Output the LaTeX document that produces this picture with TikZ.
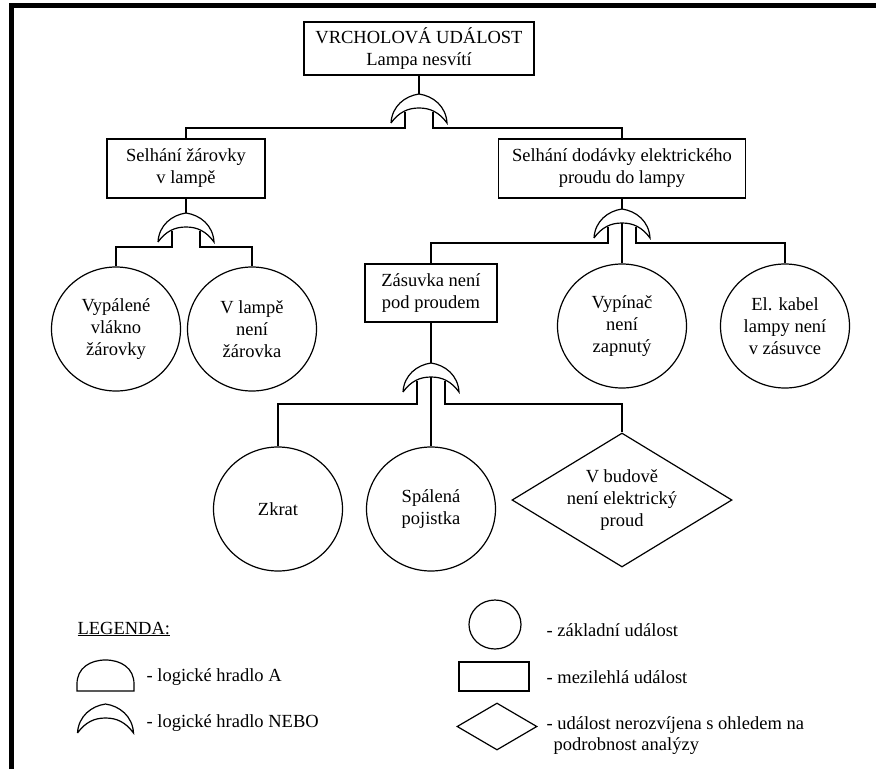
\documentclass[tikz,border=0pt]{standalone}
\usepackage{fontspec}
\setmainfont{Liberation Serif}
\usetikzlibrary{shapes}

\tikzset{
  orgate/.pic={
    \draw (-28,0) .. controls (-27,-17) and (-14,-27) .. (0,-29)
      .. controls (14,-27) and (27,-17) .. (28,0)
      .. controls (20,-11) and (11,-15) .. (0,-15)
      .. controls (-11,-15) and (-20,-11) .. (-28,0);
    \coordinate (-top) at (0,-29);
    \coordinate (-in) at (0,-15);
    \coordinate (-l) at (-14,-11);
    \coordinate (-r) at (14,-11);
  }
}

\begin{document}
\begin{tikzpicture}[x=1pt,y=-1pt,line width=1.2pt,
  evtext/.style={font=\fontsize{18.5}{22}\selectfont,align=center},
  evbox/.style={draw,rectangle,evtext,inner sep=2pt},
  basicev/.style={draw,ellipse,evtext,inner sep=0pt,minimum width=129,minimum height=124},
  undevelop/.style={draw,diamond,inner sep=0pt,minimum width=220,minimum height=134},
  legtext/.style={evtext,anchor=west,inner sep=0pt}]
\useasboundingbox (0,0) rectangle (876,769);
% Frame
\draw[line width=4.5pt] (11.5,769) -- (11.5,5.5) -- (876,5.5);
% Events
\node[evbox,minimum width=230,minimum height=53] (vrchol) at (419,48.5) {VRCHOLOVÁ UDÁLOST\\Lampa nesvítí};
\node[evbox,minimum width=158,minimum height=59] (zarovka) at (186,168.5) {Selhání žárovky\\v lampě};
\node[evbox,minimum width=247,minimum height=59] (dodavka) at (622,168.5) {Selhání dodávky elektrického\\proudu do lampy};
\node[evbox,minimum width=132,minimum height=58] (zasuvka) at (431,293) {Zásuvka není\\pod proudem};
     \node[basicev] (vlakno) at (116,329) {Vypálené\\vlákno\\žárovky};
     \node[basicev] (nezarovka) at (252,329) {V lampě\\není\\žárovka};
     \node[basicev] (vypinac) at (622,326) {Vypínač\\není\\zapnutý};
     \node[basicev] (kabel) at (785,326) {El. kabel\\lampy není\\v zásuvce};
     \node[basicev] (zkrat) at (278,509) {Zkrat};
     \node[basicev] (pojistka) at (431,509) {Spálená\\pojistka};
     \node[undevelop,label={[evtext]center:V budově\\není elektrický\\proud}] (budova) at (622,500) {};
     % Gates
     \pic (g0) at (419,123) {orgate};
     \pic (g1) at (186,242) {orgate};
     \pic (g2) at (622,238) {orgate};
     \pic (g3) at (431,392) {orgate};
     %
     % Edges
     \draw (vrchol.south) -- (g0-top);
     \draw (g0-l) -- ++(0,16) -| (zarovka.north);
     \draw (g0-r) -- ++(0,16) -| (dodavka.north);
     \draw (zarovka.south) -- (g1-top);
     \draw (g1-l) -- ++(0,16) -| (vlakno.north);
     \draw (g1-r) -- ++(0,16) -| (nezarovka.north);
     \draw (dodavka.south) -- (g2-top);
     \draw (g2-l) -- ++(0,16) -| (zasuvka.north);
     \draw (g2-in) -- (vypinac.north);
     \draw (g2-r) -- ++(0,16) -| (kabel.north);
     \draw (zasuvka.south) -- (g3-top);
     \draw (g3-l) -- ++(0,23) -| (zkrat.north);
     \draw (g3-in) -- (pojistka.north);
     \draw (g3-r) -- ++(0,23) -| (budova.north);
     %
     % Legend
     \node[legtext] (legtitle) at (77,629) {\underline{LEGENDA:}};
     \draw (77,691) -- (77,684) .. controls (77,668) and (90,660) .. (105.5,660) .. controls (121,660) and (134,668) .. (134,684) -- (134,691) -- cycle;
     \node[legtext] (legand) at (146,677) {- logické hradlo A};
     \pic (legor) at (105.5,733) {orgate};
     \node[legtext] (legnebo) at (146,723) {- logické hradlo NEBO};
     \node[draw,ellipse,minimum width=52,minimum height=49,inner sep=0pt] (legcirc) at (495,624.5) {};
     \node[legtext] (legzakl) at (546,630) {- základní událost};
     \node[draw,rectangle,minimum width=70,minimum height=29,inner sep=0pt] (legrect) at (494,676.5) {};
     \node[legtext] (legmezi) at (546,677) {- mezilehlá událost};
     \node[draw,diamond,minimum width=80,minimum height=47,inner sep=0pt] (legdiam) at (497,726.5) {};
     \node[legtext] (legnero) at (546,725) {- událost nerozvíjena s ohledem na};
     \node[legtext] (legnero2) at (553,746) {podrobnost analýzy};
\end{tikzpicture}
\end{document}
